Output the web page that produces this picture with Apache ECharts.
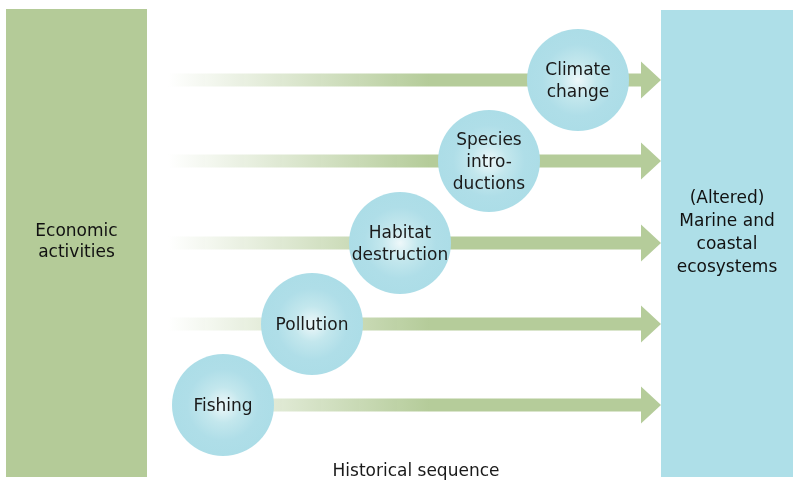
<!DOCTYPE html>
<html>
<head>
<meta charset="utf-8">
<script src="https://cdn.jsdelivr.net/npm/echarts@6/dist/echarts.min.js"></script>
<style>
  html, body { margin: 0; padding: 0; background: #fff; }
  #chart { width: 793px; height: 481px; }
</style>
</head>
<body>
<div id="chart"></div>
<script>
// drivers of change, oldest first
const drivers = ['Fishing', 'Pollution', 'Habitat\ndestruction', 'Species\nintro-\nductions', 'Climate\nchange'];
// position of each driver along the historical sequence (x) and its lane (y)
const driverX = [223, 312, 400, 489, 578];
const laneY = [405, 324, 243, 161, 80];
// arrow start / end along the sequence
const arrowFrom = 167;
const arrowTo = 661;
// the two end boxes: [x0, x1, y0, y1, label]
const boxes = [
  [6, 147, 9, 477, 'Economic\nactivities'],
  [661, 793, 10, 477, '(Altered)\nMarine and\ncoastal\necosystems']
];
const boxColors = ['#b4cb98', '#aedfe8'];
const axisTitle = 'Historical sequence';

const FONT = '"DejaVu Sans", Verdana, sans-serif';
const green = '#b5cc9a';
const FS = 17;

const chart = echarts.init(document.getElementById('chart'));

const option = {
  animation: false,
  grid: { left: 0, right: 0, top: 0, bottom: 0 },
  xAxis: { type: 'value', min: 0, max: 793, show: false },
  yAxis: { type: 'value', min: 0, max: 481, inverse: true, show: false },
  title: {
    text: axisTitle,
    left: 411,
    top: 458,
    textAlign: 'center',
    textStyle: { fontFamily: FONT, fontSize: FS, fontWeight: 'normal', color: '#1a1a1a' }
  },
  series: [
    {
      // end boxes
      type: 'custom',
      data: boxes,
      renderItem: function (params, api) {
        const p0 = api.coord([api.value(0), api.value(2)]);
        const p1 = api.coord([api.value(1), api.value(3)]);
        return {
          type: 'rect',
          shape: { x: p0[0], y: p0[1], width: p1[0] - p0[0], height: p1[1] - p0[1] },
          style: { fill: boxColors[params.dataIndex] },
          textContent: {
            style: {
              text: boxes[params.dataIndex][4],
              fill: '#111',
              fontFamily: FONT,
              fontSize: FS,
              lineHeight: params.dataIndex === 0 ? 21 : 23,
              align: 'center'
            }
          },
          textConfig: {
            position: 'inside',
            offset: [0, params.dataIndex === 0 ? -1 : -10]
          }
        };
      },
      z: 1
    },
    {
      // arrows
      type: 'custom',
      data: laneY.map(function (y) { return [arrowFrom, arrowTo, y]; }),
      renderItem: function (params, api) {
        const a = api.coord([api.value(0), api.value(2)]);
        const b = api.coord([api.value(1), api.value(2)]);
        const head = 20, shaft = 6.5, hw = 18.5;
        const hx = b[0] - head;
        return {
          type: 'polygon',
          shape: {
            points: [
              [a[0], a[1] - shaft], [hx, a[1] - shaft], [hx, a[1] - hw], [b[0], a[1]],
              [hx, a[1] + hw], [hx, a[1] + shaft], [a[0], a[1] + shaft]
            ]
          },
          style: {
            fill: new echarts.graphic.LinearGradient(0, 0, 1, 0, [
              { offset: 0, color: 'rgba(181,204,154,0)' },
              { offset: 0.53, color: green },
              { offset: 1, color: green }
            ])
          }
        };
      },
      z: 2
    },
    {
      // driver circles
      type: 'scatter',
      symbol: 'circle',
      symbolSize: 102,
      data: drivers.map(function (d, i) { return { name: d, value: [driverX[i], laneY[i]] }; }),
      itemStyle: {
        opacity: 1,
        color: {
          type: 'radial', x: 0.5, y: 0.5, r: 0.5,
          colorStops: [
            { offset: 0, color: '#eef8fa' },
            { offset: 0.35, color: '#c3e7ed' },
            { offset: 0.7, color: '#afdee8' },
            { offset: 1, color: '#acdde7' }
          ]
        }
      },
      label: {
        show: true,
        position: 'inside',
        formatter: '{b}',
        fontFamily: FONT,
        fontSize: FS,
        lineHeight: 22,
        color: '#1a1a1a',
        opacity: 1,
        offset: [0, 2]
      },
      z: 3
    }
  ]
};

chart.setOption(option);
</script>
</body>
</html>
